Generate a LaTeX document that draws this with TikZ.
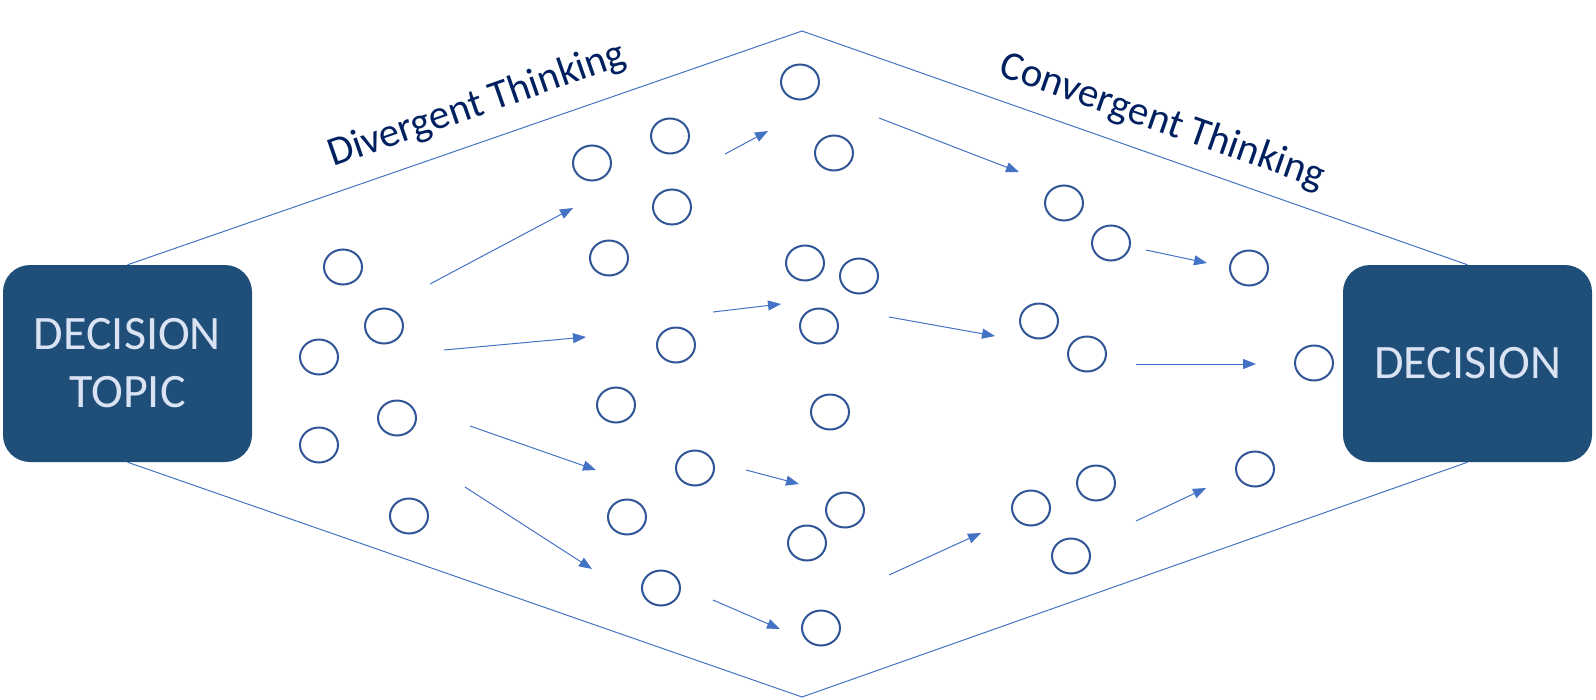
\documentclass[tikz,border=0pt]{standalone}
\usepackage{fontspec}
\setmainfont{Carlito}
\usetikzlibrary{arrows.meta,shapes.geometric}
\definecolor{boxblue}{HTML}{1F4E79}
\definecolor{boxtext}{HTML}{DAE3F3}
\definecolor{linkblue}{HTML}{4472C4}
\definecolor{ringblue}{HTML}{2F5597}
\definecolor{labelnavy}{HTML}{002060}
\tikzset{
  endbox/.style={fill=boxblue, rounded corners=27pt, inner sep=0pt,
    minimum width=249pt, minimum height=197pt, text=boxtext, align=center,
    font=\fontsize{48}{58}\selectfont},
  idea/.style={ellipse, draw=ringblue, line width=2pt, inner sep=0pt,
    minimum width=38pt, minimum height=35pt},
  frameline/.style={draw=linkblue, line width=1pt},
  flow/.style={draw=linkblue, line width=1pt, -{Triangle[length=13pt,width=10pt]}},
  phase/.style={text=labelnavy, font=\fontsize{41}{49}\selectfont, anchor=base, inner sep=0pt}
}
\begin{document}
\begin{tikzpicture}[x=1pt,y=-1pt]
\useasboundingbox (0,0) rectangle (1596,699);
% end boxes
\node[endbox] (topic) at (127.5,363.5) {DECISION\\TOPIC};
\node[endbox] (decision) at (1467.5,363.5) {DECISION};
% frame
\coordinate (apexT) at (802,31);
\coordinate (apexB) at (802,697);
\draw[frameline] (topic.north) -- (apexT) -- (decision.north);
\draw[frameline] (topic.south) -- (apexB) -- (decision.south);
% labels
\node[phase, rotate=19.2] (div) at (481,115.5) {Divergent Thinking};
\node[phase, rotate=-19.36] (conv) at (1159,132) {Convergent Thinking};
% ideas column 1
\node[idea] (a1) at (343,267) {};
\node[idea] (a2) at (384,326) {};
\node[idea] (a3) at (319,357) {};
\node[idea] (a4) at (397,418) {};
\node[idea] (a5) at (319,445) {};
\node[idea] (a6) at (409,516) {};
% column 2
\node[idea] (b1) at (592,163) {};
\node[idea] (b2) at (670,136) {};
\node[idea] (b3) at (672,207) {};
\node[idea] (b4) at (609,258) {};
\node[idea] (b5) at (676,345) {};
\node[idea] (b6) at (616,405) {};
\node[idea] (b7) at (695,468) {};
\node[idea] (b8) at (627,517) {};
\node[idea] (b9) at (661,588) {};
% column 3
\node[idea] (c1) at (800,82) {};
\node[idea] (c2) at (834,153) {};
\node[idea] (c3) at (805,263) {};
\node[idea] (c4) at (859,276) {};
\node[idea] (c5) at (819,326) {};
\node[idea] (c6) at (830,412) {};
\node[idea] (c7) at (845,510) {};
\node[idea] (c8) at (807,543) {};
\node[idea] (c9) at (821,628) {};
% column 4
\node[idea] (d1) at (1064,203) {};
\node[idea] (d2) at (1111,243) {};
\node[idea] (d3) at (1039,321) {};
\node[idea] (d4) at (1087,354) {};
\node[idea] (d5) at (1031,508) {};
\node[idea] (d6) at (1096,483) {};
\node[idea] (d7) at (1071,556) {};
% column 5
\node[idea] (e1) at (1249,268) {};
\node[idea] (e2) at (1314,363) {};
\node[idea] (e3) at (1255,469) {};
% arrow end points
\coordinate (s1) at (430,284);   \coordinate (t1) at (573,208);
\coordinate (s2) at (444,350);   \coordinate (t2) at (586,337);
\coordinate (s3) at (470,426);   \coordinate (t3) at (596,470);
\coordinate (s4) at (465,487);   \coordinate (t4) at (592,569);
\coordinate (s5) at (725,154);   \coordinate (t5) at (768,131);
\coordinate (s6) at (713,312);   \coordinate (t6) at (781,304);
\coordinate (s7) at (746,470);   \coordinate (t7) at (799,484);
\coordinate (s8) at (713,600);   \coordinate (t8) at (780,629);
\coordinate (s9) at (879,118);   \coordinate (t9) at (1019,172);
\coordinate (s10) at (889,317);  \coordinate (t10) at (995,336);
\coordinate (s11) at (889,575);  \coordinate (t11) at (981,533);
\coordinate (s12) at (1146,250); \coordinate (t12) at (1207,263);
\coordinate (s13) at (1136,364); \coordinate (t13) at (1256,364);
\coordinate (s14) at (1136,521); \coordinate (t14) at (1206,488);
\foreach \i in {1,...,14} \draw[flow] (s\i) -- (t\i);
\end{tikzpicture}
\end{document}
